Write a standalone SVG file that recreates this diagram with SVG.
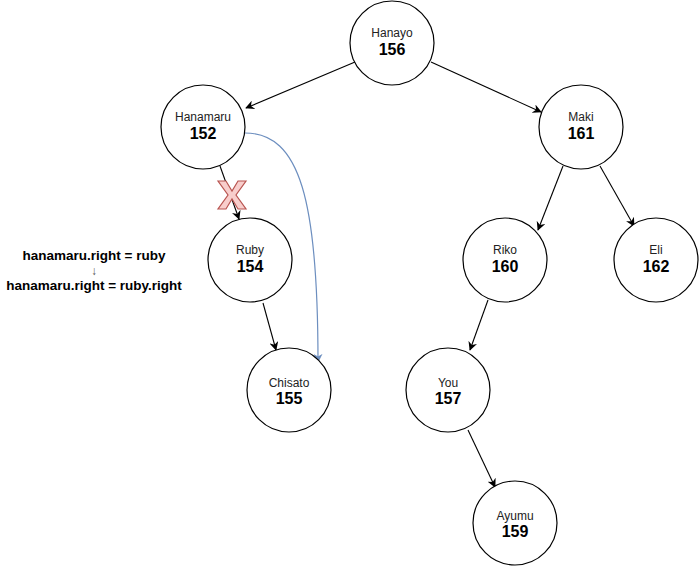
<svg xmlns="http://www.w3.org/2000/svg" width="700" height="568" viewBox="0 0 700 568">
<defs>
<marker id="ah" viewBox="0 0 10 10" refX="9" refY="5" markerWidth="9" markerHeight="9" markerUnits="userSpaceOnUse" orient="auto">
<path d="M0,0 L10,5 L0,10 L3,5 Z" fill="#000"/>
</marker>
<marker id="ahb" viewBox="0 0 10 10" refX="9" refY="5" markerWidth="9" markerHeight="9" markerUnits="userSpaceOnUse" orient="auto">
<path d="M0,0 L10,5 L0,10 L3,5 Z" fill="#6c8ebf"/>
</marker>
<style>
.n circle{fill:#fff;stroke:#000;stroke-width:1.2}
.nm{font-family:"Liberation Sans",Arial,sans-serif;font-size:12px;text-anchor:middle;fill:#222}
.v{font-family:"Liberation Sans",Arial,sans-serif;font-size:16px;font-weight:bold;text-anchor:middle;fill:#000}
.e{stroke:#000;stroke-width:1.1;fill:none;marker-end:url(#ah)}
.lbl{font-family:"Liberation Sans",Arial,sans-serif;font-size:13.5px;font-weight:bold;text-anchor:middle;fill:#000}
</style>
</defs>
<rect width="700" height="568" fill="#fff"/>
<g id="connectors">
<line class="e" x1="355" y1="62" x2="246" y2="108"/>
<line class="e" x1="431" y1="62" x2="541" y2="112"/>
<line class="e" x1="220" y1="166" x2="239" y2="219"/>
<line class="e" x1="563" y1="166" x2="538" y2="230"/>
<line class="e" x1="600" y1="166" x2="634" y2="226"/>
<line class="e" x1="263" y1="303" x2="276" y2="350"/>
<line class="e" x1="488" y1="300" x2="470" y2="350"/>
<line class="e" x1="468" y1="430" x2="495" y2="487"/>
<path d="M245,133 C300,133 318,200 318,362" fill="none" stroke="#6c8ebf" stroke-width="1.2" marker-end="url(#ahb)"/>
</g>
<g id="cross">
<polygon points="218,181 226,181 232,191 238,181 246,181 236,195 246,209 238,209 232,199 226,209 218,209 228,195" fill="#f8cecc" stroke="#b85450" stroke-width="1.2"/>
</g>
<g id="n-hanayo" class="n"><circle cx="392" cy="43" r="42"/><text class="nm" x="392" y="37">Hanayo</text><text class="v" x="392" y="55">156</text></g>
<g id="n-hanamaru" class="n"><circle cx="203" cy="127" r="42"/><text class="nm" x="203" y="121">Hanamaru</text><text class="v" x="203" y="139">152</text></g>
<g id="n-maki" class="n"><circle cx="581" cy="127" r="42"/><text class="nm" x="581" y="121">Maki</text><text class="v" x="581" y="139">161</text></g>
<g id="n-ruby" class="n"><circle cx="250" cy="260" r="42"/><text class="nm" x="250" y="254">Ruby</text><text class="v" x="250" y="272">154</text></g>
<g id="n-riko" class="n"><circle cx="505" cy="260" r="42"/><text class="nm" x="505" y="254">Riko</text><text class="v" x="505" y="272">160</text></g>
<g id="n-eli" class="n"><circle cx="656" cy="260" r="42"/><text class="nm" x="656" y="254">Eli</text><text class="v" x="656" y="272">162</text></g>
<g id="n-chisato" class="n"><circle cx="289" cy="390" r="42"/><text class="nm" x="289" y="387">Chisato</text><text class="v" x="289" y="404">155</text></g>
<g id="n-you" class="n"><circle cx="448" cy="390" r="42"/><text class="nm" x="448" y="387">You</text><text class="v" x="448" y="404">157</text></g>
<g id="n-ayumu" class="n"><circle cx="515" cy="523" r="42"/><text class="nm" x="515" y="520">Ayumu</text><text class="v" x="515" y="537">159</text></g>
<g id="note">
<text class="lbl" x="94" y="260">hanamaru.right = ruby</text>
<text x="94" y="275" font-family="Liberation Sans,Arial,sans-serif" font-size="12" fill="#555" text-anchor="middle">↓</text>
<text class="lbl" x="94" y="290">hanamaru.right = ruby.right</text>
</g>
</svg>
